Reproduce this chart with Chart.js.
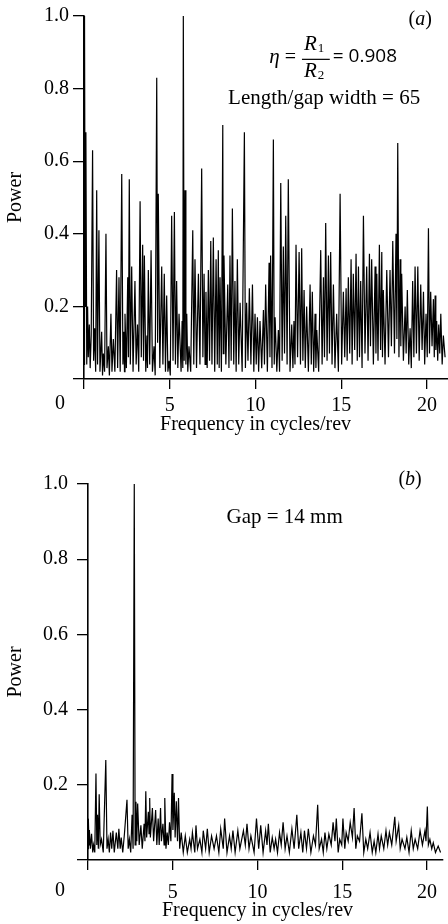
<!DOCTYPE html>
<html>
<head>
<meta charset="utf-8">
<script src="https://cdn.jsdelivr.net/npm/chart.js@4.4.0/dist/chart.umd.min.js"></script>
<style>
  body { margin: 0; background: #fff; }
  .panel { position: absolute; left: 0; }
  #pa { top: 0; }
  #pb { top: 443px; }
</style>
</head>
<body>
<div class="panel" id="pa"><canvas id="graphA" width="448" height="443"></canvas></div>
<div class="panel" id="pb"><canvas id="graphB" width="448" height="481"></canvas></div>
<script>
'use strict';

// (a) power spectrum, eta = 0.908, length/gap width = 65
var freqA = [
  0.00, 0.03, 0.07, 0.11, 0.16, 0.21, 0.25, 0.31, 0.36, 0.42,
  0.50, 0.56, 0.62, 0.68, 0.74, 0.79, 0.87, 0.93, 1.03, 1.08,
  1.13, 1.20, 1.28, 1.34, 1.42, 1.48, 1.57, 1.63, 1.71, 1.80,
  1.90, 1.96, 2.04, 2.11, 2.20, 2.27, 2.33, 2.36, 2.39, 2.47,
  2.55, 2.59, 2.64, 2.70, 2.78, 2.86, 2.97, 3.04, 3.12, 3.19,
  3.27, 3.34, 3.42, 3.47, 3.52, 3.60, 3.67, 3.70, 3.75, 3.83,
  3.91, 3.99, 4.08, 4.15, 4.24, 4.29, 4.33, 4.42, 4.53, 4.60,
  4.68, 4.75, 4.82, 4.89, 4.96, 5.03, 5.11, 5.19, 5.27, 5.33,
  5.40, 5.47, 5.54, 5.66, 5.72, 5.76, 5.79, 5.84, 5.89, 5.94,
  5.99, 6.05, 6.12, 6.22, 6.34, 6.40, 6.47, 6.56, 6.67, 6.76,
  6.86, 6.93, 7.00, 7.06, 7.11, 7.18, 7.25, 7.32, 7.39, 7.46,
  7.54, 7.62, 7.70, 7.77, 7.83, 7.88, 7.93, 8.01, 8.09, 8.12,
  8.16, 8.27, 8.38, 8.45, 8.51, 8.58, 8.65, 8.73, 8.80, 8.87,
  8.94, 9.02, 9.10, 9.22, 9.35, 9.41, 9.48, 9.56, 9.64, 9.73,
  9.82, 9.90, 9.97, 10.04, 10.11, 10.18, 10.26, 10.36, 10.46, 10.52,
  10.59, 10.69, 10.79, 10.84, 10.88, 10.96, 11.04, 11.09, 11.14, 11.24,
  11.33, 11.40, 11.47, 11.55, 11.62, 11.69, 11.76, 11.84, 11.91, 12.01,
  12.11, 12.18, 12.24, 12.30, 12.36, 12.45, 12.54, 12.62, 12.69, 12.76,
  12.83, 12.90, 12.98, 13.08, 13.18, 13.25, 13.31, 13.39, 13.47, 13.52,
  13.57, 13.68, 13.80, 13.88, 13.96, 14.02, 14.09, 14.17, 14.25, 14.31,
  14.38, 14.46, 14.54, 14.63, 14.73, 14.83, 14.93, 15.02, 15.12, 15.20,
  15.28, 15.34, 15.41, 15.49, 15.57, 15.63, 15.70, 15.78, 15.86, 15.93,
  16.00, 16.06, 16.13, 16.21, 16.29, 16.38, 16.48, 16.56, 16.64, 16.70,
  16.77, 16.87, 16.97, 17.02, 17.07, 17.14, 17.22, 17.29, 17.36, 17.40,
  17.45, 17.55, 17.65, 17.75, 17.84, 17.92, 18.00, 18.10, 18.19, 18.24,
  18.29, 18.36, 18.43, 18.47, 18.52, 18.62, 18.72, 18.78, 18.85, 18.93,
  19.01, 19.08, 19.16, 19.23, 19.30, 19.38, 19.46, 19.54, 19.63, 19.71,
  19.79, 19.86, 19.94, 20.01, 20.08, 20.14, 20.21, 20.29, 20.37, 20.42,
  20.47, 20.51, 20.56, 20.62, 20.68, 20.74, 20.80, 20.88, 20.95, 21.05
];
var powerA = [
  0.04, 1.00, 0.20, 0.68, 0.04, 0.20, 0.06, 0.15, 0.03, 0.12,
  0.63, 0.05, 0.14, 0.02, 0.52, 0.04, 0.41, 0.02, 0.13, 0.01,
  0.07, 0.02, 0.40, 0.03, 0.09, 0.01, 0.18, 0.02, 0.11, 0.02,
  0.30, 0.03, 0.28, 0.02, 0.565, 0.04, 0.13, 0.02, 0.18, 0.03,
  0.28, 0.06, 0.55, 0.04, 0.31, 0.02, 0.27, 0.04, 0.15, 0.02,
  0.49, 0.06, 0.37, 0.05, 0.34, 0.02, 0.12, 0.03, 0.30, 0.04,
  0.355, 0.02, 0.09, 0.01, 0.83, 0.10, 0.51, 0.03, 0.31, 0.04,
  0.29, 0.02, 0.23, 0.02, 0.05, 0.01, 0.45, 0.05, 0.46, 0.04,
  0.27, 0.03, 0.18, 0.02, 0.16, 0.03, 1.00, 0.05, 0.52, 0.04,
  0.18, 0.02, 0.09, 0.02, 0.41, 0.04, 0.33, 0.03, 0.29, 0.04,
  0.58, 0.06, 0.29, 0.04, 0.24, 0.03, 0.30, 0.05, 0.38, 0.04,
  0.39, 0.02, 0.33, 0.04, 0.355, 0.03, 0.28, 0.02, 0.70, 0.07,
  0.34, 0.04, 0.26, 0.03, 0.34, 0.05, 0.47, 0.04, 0.27, 0.02,
  0.33, 0.04, 0.21, 0.02, 0.68, 0.03, 0.21, 0.05, 0.25, 0.04,
  0.26, 0.02, 0.18, 0.04, 0.17, 0.02, 0.16, 0.03, 0.19, 0.04,
  0.26, 0.02, 0.32, 0.06, 0.34, 0.03, 0.66, 0.04, 0.17, 0.02,
  0.135, 0.02, 0.54, 0.05, 0.365, 0.07, 0.45, 0.04, 0.55, 0.02,
  0.15, 0.03, 0.16, 0.04, 0.37, 0.06, 0.35, 0.04, 0.36, 0.05,
  0.245, 0.03, 0.20, 0.02, 0.26, 0.04, 0.24, 0.02, 0.18, 0.03,
  0.135, 0.02, 0.355, 0.04, 0.28, 0.06, 0.43, 0.05, 0.34, 0.07,
  0.35, 0.04, 0.26, 0.03, 0.18, 0.02, 0.51, 0.04, 0.24, 0.06,
  0.25, 0.05, 0.28, 0.07, 0.33, 0.04, 0.29, 0.08, 0.345, 0.05,
  0.31, 0.06, 0.27, 0.03, 0.45, 0.07, 0.31, 0.05, 0.345, 0.09,
  0.33, 0.04, 0.31, 0.07, 0.29, 0.05, 0.37, 0.08, 0.35, 0.06,
  0.245, 0.04, 0.30, 0.06, 0.30, 0.09, 0.38, 0.07, 0.40, 0.11,
  0.65, 0.06, 0.33, 0.09, 0.29, 0.05, 0.20, 0.07, 0.245, 0.04,
  0.14, 0.03, 0.27, 0.06, 0.31, 0.07, 0.31, 0.05, 0.26, 0.08,
  0.24, 0.04, 0.18, 0.06, 0.415, 0.07, 0.24, 0.09, 0.22, 0.06,
  0.23, 0.08, 0.16, 0.05, 0.15, 0.07, 0.18, 0.04, 0.12, 0.06
];

// (b) power spectrum, gap = 14 mm
var freqB = [
  0.00, 0.02, 0.06, 0.08, 0.14, 0.21, 0.28, 0.33, 0.40, 0.47,
  0.52, 0.56, 0.61, 0.66, 0.72, 0.80, 0.90, 1.05, 1.12, 1.19,
  1.26, 1.33, 1.40, 1.47, 1.55, 1.67, 1.76, 1.82, 1.90, 1.96,
  2.05, 2.15, 2.30, 2.37, 2.44, 2.52, 2.60, 2.66, 2.73, 2.78,
  2.83, 2.88, 2.93, 3.02, 3.12, 3.20, 3.31, 3.36, 3.41, 3.46,
  3.56, 3.60, 3.64, 3.68, 3.80, 3.87, 3.99, 4.06, 4.14, 4.20,
  4.28, 4.33, 4.42, 4.49, 4.53, 4.60, 4.67, 4.74, 4.81, 4.89,
  4.96, 5.01, 5.09, 5.14, 5.21, 5.28, 5.34, 5.41, 5.50, 5.62,
  5.74, 5.86, 6.00, 6.08, 6.16, 6.30, 6.37, 6.46, 6.60, 6.72,
  6.80, 6.94, 7.04, 7.15, 7.29, 7.44, 7.58, 7.72, 7.83, 7.98,
  8.06, 8.20, 8.35, 8.45, 8.55, 8.68, 8.84, 8.96, 9.17, 9.28,
  9.38, 9.50, 9.61, 9.80, 9.94, 10.07, 10.19, 10.33, 10.48, 10.56,
  10.64, 10.75, 10.87, 10.98, 11.07, 11.18, 11.30, 11.40, 11.51, 11.63,
  11.74, 11.88, 12.03, 12.16, 12.32, 12.43, 12.56, 12.67, 12.77, 12.89,
  13.00, 13.15, 13.30, 13.42, 13.55, 13.64, 13.78, 13.88, 13.98, 14.09,
  14.21, 14.35, 14.46, 14.57, 14.65, 14.76, 14.85, 14.97, 15.04, 15.15,
  15.23, 15.35, 15.47, 15.60, 15.70, 15.80, 15.89, 16.02, 16.16, 16.27,
  16.39, 16.50, 16.64, 16.77, 16.88, 16.98, 17.11, 17.20, 17.30, 17.45,
  17.58, 17.68, 17.78, 17.92, 18.10, 18.18, 18.33, 18.42, 18.53, 18.70,
  18.81, 18.94, 19.07, 19.19, 19.30, 19.45, 19.59, 19.73, 19.88, 19.94,
  20.02, 20.08, 20.17, 20.28, 20.37, 20.50, 20.66, 20.80
];
var powerB = [
  0.03, 0.11, 0.04, 0.08, 0.03, 0.07, 0.02, 0.04, 0.02, 0.23,
  0.04, 0.12, 0.03, 0.175, 0.04, 0.055, 0.02, 0.266, 0.03, 0.055,
  0.02, 0.073, 0.03, 0.078, 0.02, 0.073, 0.03, 0.083, 0.03, 0.06,
  0.02, 0.07, 0.16, 0.03, 0.055, 0.02, 0.12, 0.03, 1.00, 0.04,
  0.155, 0.05, 0.15, 0.04, 0.092, 0.03, 0.096, 0.05, 0.183, 0.06,
  0.128, 0.07, 0.165, 0.06, 0.138, 0.05, 0.133, 0.04, 0.11, 0.04,
  0.138, 0.05, 0.096, 0.04, 0.165, 0.03, 0.073, 0.04, 0.10, 0.05,
  0.229, 0.08, 0.179, 0.06, 0.156, 0.05, 0.165, 0.03, 0.073, 0.02,
  0.064, 0.02, 0.055, 0.03, 0.073, 0.02, 0.092, 0.03, 0.055, 0.02,
  0.078, 0.03, 0.083, 0.02, 0.064, 0.03, 0.064, 0.02, 0.083, 0.03,
  0.11, 0.02, 0.064, 0.03, 0.078, 0.02, 0.078, 0.03, 0.078, 0.04,
  0.096, 0.03, 0.064, 0.02, 0.11, 0.03, 0.092, 0.02, 0.078, 0.04,
  0.096, 0.02, 0.06, 0.03, 0.055, 0.02, 0.073, 0.04, 0.10, 0.03,
  0.064, 0.02, 0.083, 0.03, 0.12, 0.03, 0.073, 0.02, 0.078, 0.03,
  0.083, 0.02, 0.064, 0.04, 0.147, 0.03, 0.055, 0.02, 0.073, 0.03,
  0.069, 0.04, 0.10, 0.05, 0.11, 0.02, 0.055, 0.04, 0.11, 0.03,
  0.073, 0.05, 0.10, 0.06, 0.138, 0.03, 0.064, 0.05, 0.124, 0.02,
  0.055, 0.03, 0.073, 0.02, 0.05, 0.02, 0.069, 0.03, 0.064, 0.03,
  0.078, 0.04, 0.073, 0.04, 0.115, 0.05, 0.092, 0.03, 0.055, 0.03,
  0.06, 0.02, 0.078, 0.03, 0.055, 0.03, 0.078, 0.04, 0.078, 0.05,
  0.142, 0.04, 0.055, 0.03, 0.046, 0.02, 0.037, 0.02
];

var xTicks = [0, 5, 10, 15, 20];
var yTicks = [0, 0.2, 0.4, 0.6, 0.8, 1.0];
var xTitle = 'Frequency in cycles/rev';
var yTitle = 'Power';

var serif = 'Liberation Serif';
var ink = '#000';

function font(size, style) {
  return (style || '') + ' ' + size + 'px "' + serif + '"';
}

// draw text made of upright / italic pieces, centred on x (or from x)
function drawRuns(ctx, runs, x, y, align) {
  let w = 0;
  runs.forEach(function(r) { ctx.font = r.font; w += ctx.measureText(r.text).width; });
  let cx = align === 'left' ? x : x - w / 2;
  runs.forEach(function(r) {
    ctx.font = r.font;
    ctx.fillText(r.text, cx, y);
    cx += ctx.measureText(r.text).width;
  });
  return cx;
}

function notesA(chart, ctx) {
  let xs = chart.scales.x, ys = chart.scales.y;
  drawRuns(ctx, [
    { text: '(', font: font(20) }, { text: 'a', font: font(20, 'italic') }, { text: ')', font: font(20) }
  ], xs.getPixelForValue(19.6), ys.getPixelForValue(0.99));

  // eta = R1 / R2 = 0.908
  let x0 = xs.getPixelForValue(10.8), y0 = ys.getPixelForValue(0.885);
  let x1 = drawRuns(ctx, [
    { text: '\u03b7', font: font(21, 'italic') }, { text: ' = ', font: font(20) }
  ], x0, y0, 'left');
  ctx.font = font(21, 'italic');
  let rw = ctx.measureText('R').width;
  ctx.fillText('R', x1 + 3, y0 - 13);
  ctx.fillText('R', x1 + 3, y0 + 14);
  ctx.font = font(13);
  ctx.fillText('1', x1 + 4 + rw, y0 - 9);
  ctx.fillText('2', x1 + 4 + rw, y0 + 18);
  let barEnd = x1 + rw + 16;
  ctx.fillRect(x1 + 1, y0 + 1, barEnd - x1 - 1, 1.2);
  ctx.font = '19px "Open Sans"';
  ctx.fillText('= 0.908', barEnd + 3, y0 - 1);

  ctx.font = font(21);
  ctx.textAlign = 'center';
  ctx.fillText('Length/gap width = 65', xs.getPixelForValue(14.0), ys.getPixelForValue(0.774));
  ctx.textAlign = 'left';
}

function notesB(chart, ctx) {
  let xs = chart.scales.x, ys = chart.scales.y;
  drawRuns(ctx, [
    { text: '(', font: font(20) }, { text: 'b', font: font(20, 'italic') }, { text: ')', font: font(20) }
  ], xs.getPixelForValue(19.0), ys.getPixelForValue(1.01));
  ctx.font = font(21);
  ctx.textAlign = 'center';
  ctx.fillText('Gap = 14 mm', xs.getPixelForValue(11.6), ys.getPixelForValue(0.91));
  ctx.textAlign = 'left';
}

function notesPlugin(o) {
  return {
    id: 'notes',
    afterDraw: function(chart) {
      let ctx = chart.ctx;
      let xs = chart.scales.x;
      let labelTop = xs.top + o.xTickLen + o.xPad;
      ctx.save();
      ctx.fillStyle = ink;
      ctx.font = font(20);
      ctx.textAlign = 'center';
      ctx.textBaseline = 'top';
      // origin label sits left of the axis corner
      ctx.fillText('0', xs.getPixelForValue(0) - o.zeroShift, labelTop);
      // axis title centred under the 0..20 ticks
      let mid = (xs.getPixelForValue(xTicks[0]) + xs.getPixelForValue(xTicks[xTicks.length - 1])) / 2;
      ctx.textBaseline = 'middle';
      ctx.fillText(xTitle, mid, labelTop + o.titleGap);
      ctx.textAlign = 'left';
      o.draw(chart, ctx);
      ctx.restore();
    }
  };
}

function makeChart(id, freq, power, o) {
  let ctx = document.getElementById(id).getContext('2d');
  let pts = freq.map(function(f, i) { return { x: f, y: power[i] }; });
  return new Chart(ctx, {
    type: 'scatter',
    data: {
      datasets: [{
        data: pts,
        showLine: true,
        borderColor: ink,
        borderWidth: 1.2,
        pointRadius: 0,
        tension: 0
      }]
    },
    options: {
      responsive: false,
      animation: false,
      layout: { padding: { top: o.top, left: 0, right: 0, bottom: 0 } },
      plugins: {
        legend: { display: false },
        tooltip: { enabled: false }
      },
      scales: {
        x: {
          type: 'linear',
          min: 0,
          max: o.xMax,
          afterBuildTicks: function(s) { s.ticks = xTicks.map(function(v) { return { value: v }; }); },
          afterFit: function(s) { s.height = o.xAxisH; },
          ticks: {
            color: ink,
            font: { family: serif, size: 20 },
            padding: o.xPad,
            maxRotation: 0,
            autoSkip: false,
            callback: function(v) { return v === 0 ? '' : String(v); }
          },
          grid: { drawOnChartArea: false, drawTicks: true, tickLength: o.xTickLen, color: ink, lineWidth: 1.3 },
          border: { display: true, color: ink, width: 1.6 },
          title: { display: false }
        },
        y: {
          min: 0,
          max: 1,
          afterBuildTicks: function(s) { s.ticks = yTicks.map(function(v) { return { value: v }; }); },
          afterFit: function(s) { s.width = o.yAxisW; },
          ticks: {
            color: ink,
            font: { family: serif, size: 20 },
            padding: o.yPad,
            callback: function(v) { return v === 0 ? '' : v.toFixed(1); }
          },
          grid: { drawOnChartArea: false, drawTicks: true, tickLength: 11, color: ink, lineWidth: 1.3 },
          border: { display: true, color: ink, width: 1.6 },
          title: {
            display: true,
            text: yTitle,
            color: ink,
            font: { family: serif, size: 20 },
            padding: { top: 4, bottom: 0 }
          }
        }
      }
    },
    plugins: [notesPlugin(o)]
  });
}

makeChart('graphA', freqA, powerA, {
  top: 16, xMax: 21.22, xAxisH: 64, yAxisW: 84,
  xTickLen: 10, xPad: 5, yPad: 4, zeroShift: 24, titleGap: 31, draw: notesA
});
makeChart('graphB', freqB, powerB, {
  top: 41, xMax: 20.93, xAxisH: 64, yAxisW: 88,
  xTickLen: 10, xPad: 11, yPad: 9, zeroShift: 28, titleGap: 30, draw: notesB
});
</script>
</body>
</html>
